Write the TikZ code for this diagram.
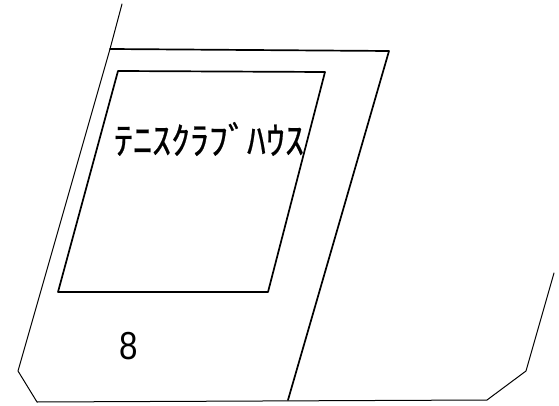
\documentclass[tikz,border=0pt]{standalone}
\usepackage{fontspec}
\setmainfont{Liberation Sans}
\newfontfamily\cjk[FakeBold=0.6]{Noto Sans CJK JP}
\begin{document}
\begin{tikzpicture}[x=1pt,y=-1pt,line join=round,line cap=round,thick]
	\tikzset{lotline/.style={line width=1pt},
		wallline/.style={line width=1.7pt}}
	\useasboundingbox (0,0) rectangle (559,406);
	% lot
	\draw[lotline] (122,4)--(110,49)--(18,371)--(37,402)--(487,400)--(526,371)--(554,273);
	\draw[wallline] (110,49)--(389,51)--(288,400);
	% house
	\draw[wallline] (118,71)--(325,72)--(268,292)--(58,292)--cycle;
	\node[font=\cjk\fontsize{38}{38}\selectfont,inner sep=0pt] (house) at (209,139) {ﾃﾆｽｸﾗﾌﾞﾊｳｽ};
	\node[font=\fontsize{39}{39}\selectfont,xscale=0.85,inner sep=0pt] (num) at (129,346) {8};
\end{tikzpicture}
\end{document}
